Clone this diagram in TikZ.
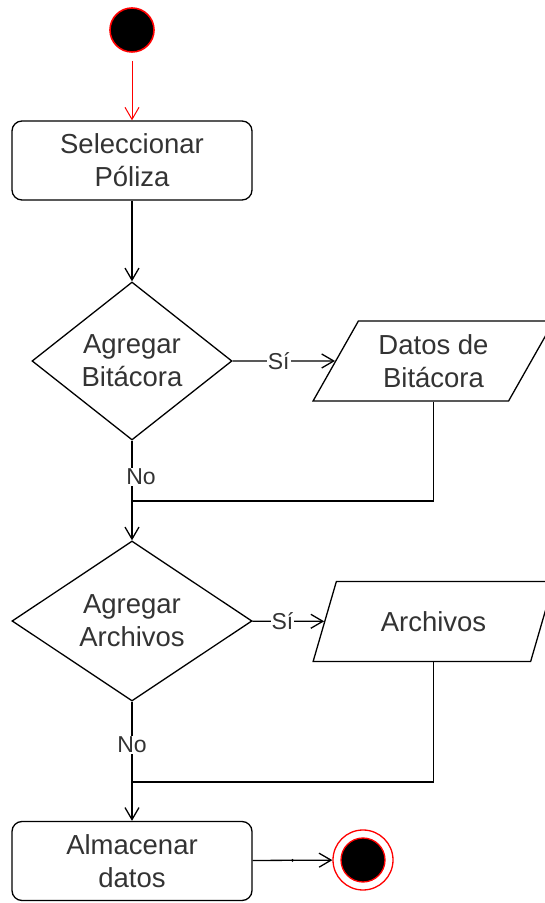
\documentclass[tikz,border=0pt]{standalone}
\usepackage{fontspec}
\setmainfont{Liberation Sans}
\usetikzlibrary{shapes.geometric, arrows.meta}

\begin{document}
\begin{tikzpicture}[
		x=1pt, y=1pt,
		line width=1.3pt,
		every node/.style={font=\fontsize{27.5}{33}\selectfont, text=black!80, align=center},
		actbox/.style={rectangle, rounded corners=10pt, draw, minimum width=240pt, minimum height=79pt, inner sep=0pt},
		decision/.style={diamond, draw, inner sep=0pt, aspect=1.25},
		iobox/.style={trapezium, trapezium left angle=58, trapezium right angle=122, trapezium stretches=true, draw, minimum width=241pt, minimum height=80pt, inner sep=0pt},
		flow/.style={-{Straight Barb[length=12pt, width=14pt]}},
		lbl/.style={fill=white, inner sep=1pt, font=\fontsize{23}{26}\selectfont}
	]
  \useasboundingbox (0, 0) rectangle (544, 903);
  \node (start) [circle, draw=red, fill=black, minimum size=44pt, inner sep=0pt, line width=1.6pt] at (132, 873) {};
  \node (sel) [actbox] at (132, 742.5) {Seleccionar\\Póliza};
  \node (addlog) [decision, minimum width=200pt, minimum height=158pt] at (132, 542) {Agregar\\Bitácora};
  \node (logdata) [iobox] at (433.5, 542) {Datos de\\Bitácora};
  \node (addfiles) [decision, minimum width=240pt, minimum height=160pt] at (132, 282) {Agregar\\Archivos};
  \node (files) [iobox] at (433.5, 281.5) {Archivos};
  \node (store) [actbox] at (132, 42) {Almacenar\\datos};
  \node (stop) [circle, draw=red, fill=white, minimum size=60pt, inner sep=0pt, line width=1.3pt] at (363, 43) {};
  \node (stopdot) [circle, draw=red, fill=black, minimum size=44pt, inner sep=0pt, line width=1.3pt] at (stop) {};
  \coordinate (j1) at (132, 402);
  \coordinate (j2) at (132, 121);
  \draw [flow, red, line width=1pt, shorten <=8pt] (start) -- (sel);
  \draw [flow] (sel) -- (addlog);
  \draw [flow] (addlog) -- node [lbl, pos=0.45] {Sí} (logdata);
  \draw (addlog) -- node [lbl, pos=0.6, xshift=9pt] {No} (j1);
  \draw (logdata) |- (j1);
  \draw [flow] (j1) -- (addfiles);
  \draw [flow] (addfiles) -- node [lbl, pos=0.42] {Sí} (files);
  \draw (addfiles) -- node [lbl, pos=0.54] {No} (j2);
  \draw (files) |- (j2);
  \draw [flow] (j2) -- (store);
  \draw [flow] (store) -- node [circle, fill, minimum size=3pt, inner sep=0pt] (mid) {} (stop);
\end{tikzpicture}
\end{document}
